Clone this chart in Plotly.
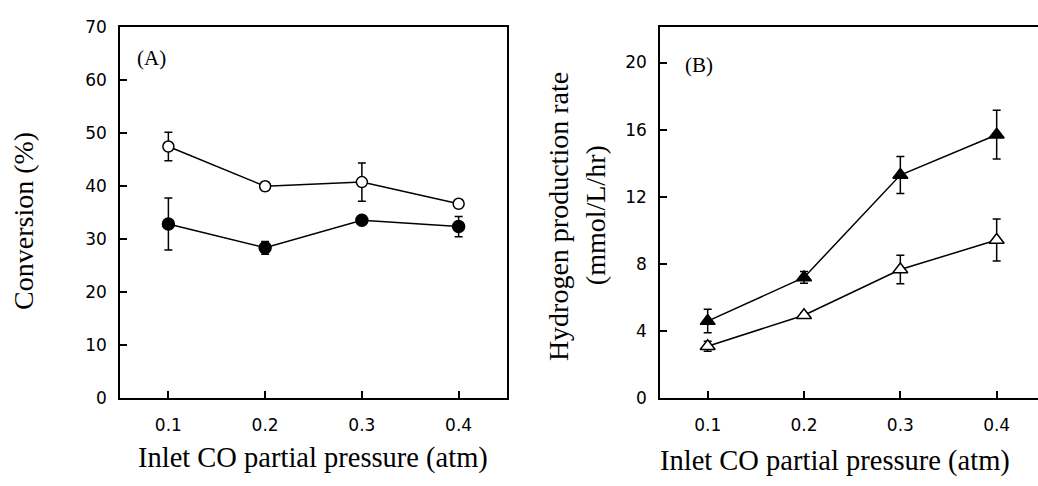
import plotly.graph_objects as go

# ---- data ----
pressure = [0.1, 0.2, 0.3, 0.4]

conv_open = [47.5, 40.0, 40.8, 36.7]
conv_open_err = [2.7, 0.8, 3.6, 0.6]
conv_filled = [32.9, 28.4, 33.6, 32.4]
conv_filled_err = [4.9, 1.2, 0.5, 1.9]

h2_filled = [4.6, 7.2, 13.3, 15.7]
h2_filled_err = [0.7, 0.35, 1.1, 1.45]
h2_open = [3.1, 4.95, 7.67, 9.43]
h2_open_err = [0.3, 0.15, 0.85, 1.25]

x_ticks = [0.1, 0.2, 0.3, 0.4]
x_ticklabels = ["0.1", "0.2", "0.3", "0.4"]
a_yticks = [0, 10, 20, 30, 40, 50, 60, 70]
b_yticks = [0, 4, 8, 12, 16, 20]

BLACK = "black"
SERIF = "Liberation Serif"
TICKFONT = dict(family="DejaVu Sans", size=17, color=BLACK)

fig = go.Figure()

def add_series(x, y, err, symbol, filled, xa, ya, size):
    fig.add_trace(go.Scatter(
        x=x, y=y, mode="lines+markers",
        line=dict(color=BLACK, width=1.5),
        marker=dict(symbol=symbol, size=size,
                    color=BLACK if filled else "white",
                    line=dict(color=BLACK, width=1.5)),
        error_y=dict(type="data", array=err, visible=True,
                     color=BLACK, thickness=1.5, width=4),
        xaxis=xa, yaxis=ya, showlegend=False,
    ))

add_series(pressure, conv_open, conv_open_err, "circle", False, "x", "y", 11)
add_series(pressure, conv_filled, conv_filled_err, "circle", True, "x", "y", 12)
add_series(pressure, h2_filled, h2_filled_err, "triangle-up", True, "x2", "y2", 13)
add_series(pressure, h2_open, h2_open_err, "triangle-up", False, "x2", "y2", 13)

W, H = 1038, 486
ydom = [(H - 405) / H, (H - 18) / H]

common_x = dict(showgrid=False, zeroline=False, showline=True, linecolor=BLACK,
                linewidth=1.5, ticks="inside", ticklen=8, tickwidth=1.5,
                tickcolor=BLACK, tickvals=x_ticks, ticktext=x_ticklabels,
                tickfont=TICKFONT, ticklabelstandoff=11)
common_y = dict(showgrid=False, zeroline=False, showline=True, linecolor=BLACK,
                linewidth=1.5, ticks="inside", ticklen=7, tickwidth=1.5,
                tickcolor=BLACK, tickfont=TICKFONT, ticklabelstandoff=8)

fig.update_layout(
    autosize=True,
    margin=dict(l=0, r=0, t=0, b=0),
    paper_bgcolor="white", plot_bgcolor="white",
    xaxis=dict(domain=[120 / W, 507 / W], range=[0.05, 0.45], anchor="y",
               mirror=True, **common_x),
    yaxis=dict(domain=ydom, range=[0, 70], anchor="x", tickvals=a_yticks,
               mirror=True, **common_y),
    xaxis2=dict(domain=[660 / W, 1.0], range=[0.0505, 0.4429], anchor="y2",
                mirror=True, **common_x),
    yaxis2=dict(domain=ydom, range=[0, 22.1], anchor="x2", tickvals=b_yticks,
                mirror=False, **common_y),
)

def ann(text, x, y, size, angle=0):
    fig.add_annotation(text=text, x=x / W, y=1 - y / H, xref="paper", yref="paper",
                       showarrow=False, textangle=angle, xanchor="center",
                       yanchor="middle",
                       font=dict(family=SERIF, size=size, color=BLACK))

ann("Inlet CO partial pressure (atm)", 313, 467, 28.5)
ann("Inlet CO partial pressure (atm)", 835, 470, 28.5)
ann("Conversion (%)", 24, 220, 28, -90)
ann("Hydrogen production rate", 558, 216, 28, -90)
ann("(mmol/L/hr)", 595, 214, 28, -90)
ann("(A)", 151, 50, 21)
ann("(B)", 699, 57, 21)

post = ("document.documentElement.style.margin='0';"
        "document.documentElement.style.overflow='hidden';"
        "document.body.style.margin='0';"
        "document.body.style.padding='0';"
        "document.body.style.overflow='hidden';"
        "window.dispatchEvent(new Event('resize'));")

fig.write_html("out.html", post_script=post,
               default_width="100vw", default_height="100vh",
               config={"displayModeBar": False, "responsive": True})
